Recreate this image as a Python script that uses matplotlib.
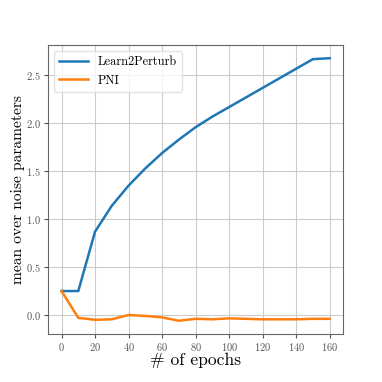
import matplotlib
matplotlib.use("Agg")
import matplotlib.pyplot as plt

epochs = [0, 10, 20, 30, 40, 50, 60, 70, 80, 90, 100, 110, 120, 130, 140, 150, 160]
learn2perturb = [0.25, 0.25, 0.87, 1.14, 1.35, 1.53, 1.69, 1.83, 1.96, 2.07, 2.17, 2.27, 2.37, 2.47, 2.57, 2.67, 2.68]
pni = [0.25, -0.03, -0.05, -0.045, 0.0, -0.01, -0.025, -0.06, -0.04, -0.045, -0.035, -0.04, -0.045, -0.045, -0.045, -0.04, -0.04]

plt.rcParams['font.family'] = ['cmr10', 'DejaVu Serif']
plt.rcParams['mathtext.fontset'] = 'cm'
plt.rcParams['axes.formatter.use_mathtext'] = True

fig = plt.figure(figsize=(3.82, 3.82), dpi=100)
ax = fig.add_axes([0.126, 0.126, 0.772, 0.756])

ax.plot(epochs, learn2perturb, color='tab:blue', lw=1.8, label='Learn2Perturb')
ax.plot(epochs, pni, color='tab:orange', lw=1.8, label='PNI')

ax.set_xticks(range(0, 161, 20))
ax.set_yticks([0.0, 0.5, 1.0, 1.5, 2.0, 2.5])
ax.grid(True, color='#cccccc', lw=0.8)
ax.set_axisbelow(True)
for s in ax.spines.values():
    s.set_color('#666666')
ax.tick_params(colors='#555555', labelsize=7.5, length=3, pad=2)

ax.set_xlabel('# of epochs', fontsize=12.6, labelpad=0)
ax.set_ylabel('mean over noise parameters', fontsize=11.2, labelpad=1)
ax.legend(loc='upper left', fontsize=8.9, handlelength=2.3, framealpha=0.8, edgecolor='#dddddd')

fig.savefig('out.png', dpi=100)
